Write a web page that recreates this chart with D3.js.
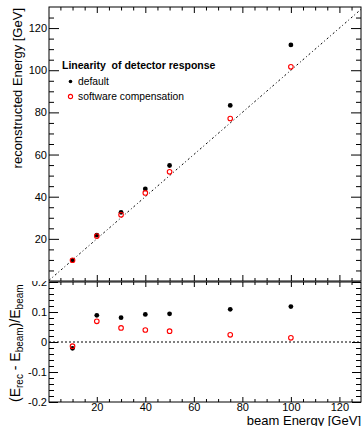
<!DOCTYPE html>
<html>
<head>
<meta charset="utf-8">
<script src="https://cdn.jsdelivr.net/npm/d3@7"></script>
<style>
  body { margin: 0; background: #fff; }
  svg { display: block; }
  text { font-family: "Liberation Sans", Arial, Helvetica, sans-serif; fill: #000; }
</style>
</head>
<body>
<svg id="chart" width="364" height="426"></svg>
<script>
/* ── Data ─────────────────────────────────────────────────────────── */

const beamEnergy   = [10, 20, 30, 40, 50, 75, 100];
const recoDefault  = [9.8, 21.8, 32.6, 43.7, 54.8, 83.3, 112.0];
const recoSoftComp = [9.85, 21.3, 31.4, 41.8, 51.8, 77.1, 101.6];
const relDefault   = [-0.021, 0.089, 0.081, 0.092, 0.094, 0.109, 0.118];
const relSoftComp  = [-0.014, 0.069, 0.047, 0.040, 0.036, 0.024, 0.014];

const xMajorTicks    = [20, 40, 60, 80, 100, 120];
const recoMajorTicks = [20, 40, 60, 80, 100, 120];
const relMajorTicks  = [-0.2, -0.1, 0, 0.1, 0.2];
const relTickLabels  = ['-0.2', '-0.1', '0', '0.1', '0.2'];

const legendTitle  = 'Linearity  of detector response';
const legendLabels = ['default', 'software compensation'];

/* ── Layout ───────────────────────────────────────────────────────── */

const L = 49, R = 361;
const topPad = { t: 7, b: 281 };
const lowPad = { t: 282, b: 402 };

const svg = d3.select('#chart');

const x = d3.scaleLinear().domain([0.3, 128.9]).range([L, R]);
const yReco = d3.scaleLinear().domain([0, 130]).range([topPad.b, topPad.t]);
const yRel = d3.scaleLinear().domain([-0.2, 0.2]).range([lowPad.b, lowPad.t]);

const xMinor = d3.range(5, 129, 5).filter(v => v % 20 !== 0);
const recoMinor = d3.range(5, 130, 5).filter(v => v % 20 !== 0);
const relMinor = d3.range(-10, 11, 1).filter(k => k % 5 !== 0).map(k => k * 0.02);

// inward tick helper
function ticks(g, axisFn, scale, values, len, labels) {
  const a = axisFn(scale).tickValues(values).tickSizeInner(-len).tickSizeOuter(0);
  if (labels) a.tickPadding(2).tickFormat(labels);
  else a.tickFormat('');
  g.call(a);
  g.select('.domain').remove();
  g.selectAll('line').attr('stroke', '#000').attr('stroke-width', 1);
  return g;
}

function markers(g, xs, ys, yScale) {
  g.selectAll('circle.def')
    .data(xs.map((v, i) => [v, ys[0][i]]))
    .join('circle')
    .attr('class', 'def')
    .attr('cx', d => x(d[0]))
    .attr('cy', d => yScale(d[1]))
    .attr('r', 2.4)
    .attr('fill', '#000');
  g.selectAll('circle.sc')
    .data(xs.map((v, i) => [v, ys[1][i]]))
    .join('circle')
    .attr('class', 'sc')
    .attr('cx', d => x(d[0]))
    .attr('cy', d => yScale(d[1]))
    .attr('r', 2.3)
    .attr('fill', 'none')
    .attr('stroke', '#f00')
    .attr('stroke-width', 1.1);
}

/* ── Lower pad (ratio) ────────────────────────────────────────────── */

const lowG = svg.append('g');

lowG.append('line')
  .attr('x1', L).attr('x2', R)
  .attr('y1', yRel(0)).attr('y2', yRel(0))
  .attr('stroke', '#000').attr('stroke-width', 1)
  .attr('stroke-dasharray', '2,2');

markers(lowG.append('g'), beamEnergy, [relDefault, relSoftComp], yRel);

const relFmt = d => relTickLabels[relMajorTicks.indexOf(d)];
const lyl = ticks(lowG.append('g').attr('transform', `translate(${L},0)`),
  d3.axisLeft, yRel, relMajorTicks, 9, relFmt);
lyl.selectAll('text').attr('font-size', 11);
ticks(lowG.append('g').attr('transform', `translate(${L},0)`), d3.axisLeft, yRel, relMinor, 5);
ticks(lowG.append('g').attr('transform', `translate(${R},0)`), d3.axisRight, yRel, relMajorTicks, 9);
ticks(lowG.append('g').attr('transform', `translate(${R},0)`), d3.axisRight, yRel, relMinor, 5);

const lxb = ticks(lowG.append('g').attr('transform', `translate(0,${lowPad.b})`),
  d3.axisBottom, x, xMajorTicks, 5, d3.format('d'));
lxb.selectAll('text').attr('font-size', 11).attr('y', 1.5);
ticks(lowG.append('g').attr('transform', `translate(0,${lowPad.b})`), d3.axisBottom, x, xMinor, 3);
ticks(lowG.append('g').attr('transform', `translate(0,${lowPad.t})`), d3.axisTop, x, xMajorTicks, 5);
ticks(lowG.append('g').attr('transform', `translate(0,${lowPad.t})`), d3.axisTop, x, xMinor, 3);

lowG.append('rect')
  .attr('x', L).attr('y', lowPad.t).attr('width', R - L).attr('height', lowPad.b - lowPad.t)
  .attr('fill', 'none').attr('stroke', '#000').attr('stroke-width', 1);

// y title with subscripts
const relTitle = lowG.append('text')
  .attr('transform', `translate(20,${lowPad.b}) rotate(-90)`)
  .attr('font-size', 14);
[['(E', false], ['rec', true], [' - E', false], ['beam', true], [')/E', false], ['beam', true]]
  .forEach(([s, sub], i, arr) => {
    const prevSub = i > 0 && arr[i - 1][1];
    relTitle.append('tspan')
      .attr('font-size', sub ? 10 : 14)
      .attr('dy', sub ? 3 : (prevSub ? -3 : 0))
      .text(s);
  });

lowG.append('text')
  .attr('x', R).attr('y', 424.5)
  .attr('text-anchor', 'end')
  .attr('font-size', 13)
  .text('beam Energy [GeV]');

/* ── Top pad (linearity) ──────────────────────────────────────────── */

const topG = svg.append('g');

topG.append('rect')
  .attr('x', 0).attr('y', 0).attr('width', 364).attr('height', topPad.b)
  .attr('fill', '#fff');

svg.append('defs').append('clipPath').attr('id', 'topclip')
  .append('rect')
  .attr('x', L).attr('y', topPad.t).attr('width', R - L).attr('height', topPad.b - topPad.t);

topG.append('line')
  .attr('clip-path', 'url(#topclip)')
  .attr('x1', x(x.domain()[0])).attr('y1', yReco(x.domain()[0]))
  .attr('x2', x(x.domain()[1])).attr('y2', yReco(x.domain()[1]))
  .attr('stroke', '#000').attr('stroke-width', 1)
  .attr('stroke-dasharray', '2,2.5,1,2.5');

markers(topG.append('g'), beamEnergy, [recoDefault, recoSoftComp], yReco);

const tyl = ticks(topG.append('g').attr('transform', `translate(${L},0)`),
  d3.axisLeft, yReco, recoMajorTicks, 10, d3.format('d'));
tyl.selectAll('text').attr('font-size', 11);
ticks(topG.append('g').attr('transform', `translate(${L},0)`), d3.axisLeft, yReco, recoMinor, 5);
ticks(topG.append('g').attr('transform', `translate(${R},0)`), d3.axisRight, yReco, recoMajorTicks, 10);
ticks(topG.append('g').attr('transform', `translate(${R},0)`), d3.axisRight, yReco, recoMinor, 5);
ticks(topG.append('g').attr('transform', `translate(0,${topPad.b})`), d3.axisBottom, x, xMajorTicks, 6);
ticks(topG.append('g').attr('transform', `translate(0,${topPad.b})`), d3.axisBottom, x, xMinor, 3);
ticks(topG.append('g').attr('transform', `translate(0,${topPad.t})`), d3.axisTop, x, xMajorTicks, 6);
ticks(topG.append('g').attr('transform', `translate(0,${topPad.t})`), d3.axisTop, x, xMinor, 3.5);

topG.append('rect')
  .attr('x', L).attr('y', topPad.t).attr('width', R - L).attr('height', topPad.b - topPad.t)
  .attr('fill', 'none').attr('stroke', '#000').attr('stroke-width', 1);

topG.append('text')
  .attr('transform', `translate(22,${topPad.t + 1}) rotate(-90)`)
  .attr('text-anchor', 'end')
  .attr('font-size', 13)
  .text('reconstructed Energy [GeV]');

/* ── Legend ───────────────────────────────────────────────────────── */

const leg = topG.append('g');
leg.append('text')
  .attr('x', 62).attr('y', 69)
  .attr('font-size', 10.5).attr('font-weight', 'bold')
  .style('white-space', 'pre')
  .text(legendTitle);

legendLabels.forEach((lab, i) => {
  const cy = 81.5 + i * 15;
  if (i === 0) {
    leg.append('circle').attr('cx', 70.5).attr('cy', cy).attr('r', 1.8).attr('fill', '#000');
  } else {
    leg.append('circle').attr('cx', 70.5).attr('cy', cy).attr('r', 2.1)
      .attr('fill', 'none').attr('stroke', '#f00').attr('stroke-width', 1.1);
  }
  leg.append('text')
    .attr('x', 78).attr('y', cy + 3.7)
    .attr('font-size', 10.3)
    .text(lab);
});
</script>
</body>
</html>
